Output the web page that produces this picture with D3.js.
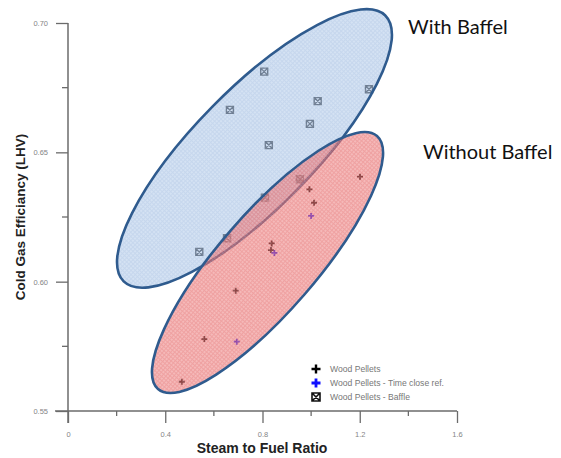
<!DOCTYPE html>
<html>
<head>
<meta charset="utf-8">
<script src="https://cdn.jsdelivr.net/npm/d3@7"></script>
<style>
  body { margin: 0; background: #fff; }
  svg { display: block; }
</style>
</head>
<body>
<div id="chart"></div>
<script>
// steam to fuel ratio vs cold gas efficiency
const pelletX = [0.993, 1.012, 1.201, 0.838, 0.835, 0.690, 0.561, 0.468, 0.955];
const pelletY = [0.6357, 0.6305, 0.6406, 0.6148, 0.6122, 0.5965, 0.5778, 0.5613, 0.6392];
const closeRefX = [1.000, 0.849, 0.694];
const closeRefY = [0.6254, 0.6111, 0.5768];
const baffleX = [0.807, 1.238, 1.027, 0.666, 0.995, 0.826, 0.954, 0.810, 0.654, 0.540];
const baffleY = [0.6812, 0.6744, 0.6698, 0.6664, 0.6610, 0.6528, 0.6396, 0.6325, 0.6168, 0.6115];

const xTicks = [0, 0.4, 0.8, 1.2, 1.6];
const xMinor = [0.2, 0.6, 1.0, 1.4];
const yTicks = [0.55, 0.60, 0.65, 0.70];
const yMinor = [0.575, 0.625, 0.675];

const legendLabels = ['Wood Pellets', 'Wood Pellets - Time close ref.', 'Wood Pellets - Baffle'];

// ellipses drawn round each group: centre and end of long axis, in data units
const groupNames = ['With Baffel', 'Without Baffel'];
const groupCentre = [[0.767, 0.6515], [0.8206, 0.6074]];
const groupTip = [[1.305, 0.7029], [1.271, 0.6563]];
const groupRatio = [0.318, 0.292];

const width = 561, height = 458;
const x = d3.scaleLinear().domain([0, 1.6]).range([68, 457]);
const y = d3.scaleLinear().domain([0.55, 0.70]).range([411, 23]);

const svg = d3.select('#chart').append('svg')
  .attr('width', width)
  .attr('height', height)
  .style('font-family', 'Arial, "Liberation Sans", sans-serif');

// fine grid texture like the original fills
const defs = svg.append('defs');
const fills = [['gridBlue', '#a3bee2', '#bad0ec'], ['gridRed', '#e56868', '#ef8e8e']];
fills.forEach(([id, c1, c2]) => {
  const p = defs.append('pattern').attr('id', id)
    .attr('width', 3).attr('height', 3).attr('patternUnits', 'userSpaceOnUse');
  p.append('rect').attr('width', 3).attr('height', 3).attr('fill', c2);
  p.append('path').attr('d', 'M0,0.5H3M0.5,0V3').attr('stroke', c1).attr('stroke-width', 1);
});

// *** axes *** //
const axisColor = '#6b6b6b';
const xAxis = svg.append('g').attr('transform', `translate(0,${y(0.55)})`)
  .call(d3.axisBottom(x).tickValues(xTicks).tickSize(12).tickPadding(9)
    .tickFormat(d => d === 0 ? '0' : d3.format('.1f')(d)));
xAxis.append('g').selectAll('line').data(xMinor).join('line')
  .attr('x1', d => x(d)).attr('x2', d => x(d)).attr('y1', 0).attr('y2', 5);
const yAxis = svg.append('g').attr('transform', `translate(${x(0)},0)`)
  .call(d3.axisLeft(y).tickValues(yTicks).tickSize(12).tickPadding(8).tickFormat(d3.format('.2f')));
yAxis.append('g').selectAll('line').data(yMinor).join('line')
  .attr('y1', d => y(d)).attr('y2', d => y(d)).attr('x1', 0).attr('x2', -6);

[xAxis, yAxis].forEach(a => {
  a.select('.domain').remove();
  a.selectAll('line').attr('stroke', axisColor).attr('stroke-width', 1.3);
  a.selectAll('text').attr('fill', '#858585').style('font-size', '7.5px');
});
svg.append('line').attr('x1', x(0) - 13).attr('x2', x(1.6))
  .attr('y1', y(0.55)).attr('y2', y(0.55)).attr('stroke', axisColor).attr('stroke-width', 1.5);
svg.append('line').attr('x1', x(0)).attr('x2', x(0))
  .attr('y1', y(0.70)).attr('y2', y(0.55) + 12).attr('stroke', axisColor).attr('stroke-width', 1.5);

svg.append('text').attr('x', 262).attr('y', 453)
  .attr('text-anchor', 'middle').style('font-size', '14px').style('font-weight', 'bold')
  .attr('fill', '#222').text('Steam to Fuel Ratio');
svg.append('text').attr('transform', `translate(25,${(y(0.55) + y(0.70)) / 2}) rotate(-90)`)
  .attr('text-anchor', 'middle').style('font-size', '13.5px').style('font-weight', 'bold')
  .attr('fill', '#222').text('Cold Gas Efficiancy (LHV)');

// *** markers *** //
const plusPath = s => `M${-s},0H${s}M0,${-s}V${s}`;
const boxPath = s => `M${-s},${-s}H${s}V${s}H${-s}ZM${-s},${-s}L${s},${s}M${s},${-s}L${-s},${s}`;

const marks = svg.append('g');
marks.selectAll('path.pellet').data(pelletX).join('path').attr('class', 'pellet')
  .attr('transform', (d, i) => `translate(${x(d)},${y(pelletY[i])})`)
  .attr('d', plusPath(3)).attr('stroke', '#000').attr('stroke-width', 1.8);
marks.selectAll('path.ref').data(closeRefX).join('path').attr('class', 'ref')
  .attr('transform', (d, i) => `translate(${x(d)},${y(closeRefY[i])})`)
  .attr('d', plusPath(3)).attr('stroke', '#1010ff').attr('stroke-width', 1.8);
marks.selectAll('path.baffle').data(baffleX).join('path').attr('class', 'baffle')
  .attr('transform', (d, i) => `translate(${x(d)},${y(baffleY[i])})`)
  .attr('d', boxPath(3.5)).attr('fill', 'none').attr('stroke', '#111').attr('stroke-width', 1.4);

// *** ellipses over the groups *** //
const ellipses = svg.append('g');
groupNames.forEach((name, i) => {
  const cx = x(groupCentre[i][0]), cy = y(groupCentre[i][1]);
  const tx = x(groupTip[i][0]), ty = y(groupTip[i][1]);
  const a = Math.hypot(tx - cx, ty - cy);
  const ang = Math.atan2(ty - cy, tx - cx) * 180 / Math.PI;
  ellipses.append('ellipse')
    .attr('transform', `translate(${cx},${cy}) rotate(${ang})`)
    .attr('rx', a).attr('ry', a * groupRatio[i])
    .attr('fill', i === 0 ? 'url(#gridBlue)' : 'url(#gridRed)')
    .attr('fill-opacity', 0.62)
    .attr('stroke', '#2f5b8e').attr('stroke-width', 2.6);
});

// group labels
svg.append('text').attr('x', 408).attr('y', 34).style('font-family', 'Lato, "Open Sans", sans-serif')
  .style('font-size', '20px').attr('fill', '#111').text(groupNames[0]);
svg.append('text').attr('x', 423).attr('y', 159).style('font-family', 'Lato, "Open Sans", sans-serif')
  .style('font-size', '20px').attr('fill', '#111').text(groupNames[1]);

// *** legend *** //
const legend = svg.append('g');
const legendY = [369, 383, 397];
const legendMark = [
  g => g.append('path').attr('d', plusPath(4.5)).attr('stroke', '#000').attr('stroke-width', 2.4),
  g => g.append('path').attr('d', plusPath(4.5)).attr('stroke', '#1010ff').attr('stroke-width', 2.8),
  g => g.append('path').attr('d', boxPath(4)).attr('fill', 'none').attr('stroke', '#111').attr('stroke-width', 1.6)
];
legendLabels.forEach((label, i) => {
  const g = legend.append('g').attr('transform', `translate(316,${legendY[i]})`);
  legendMark[i](g);
  g.append('text').attr('x', 14).attr('y', 3).style('font-size', '8.6px')
    .attr('fill', '#777').text(label);
});
</script>
</body>
</html>
